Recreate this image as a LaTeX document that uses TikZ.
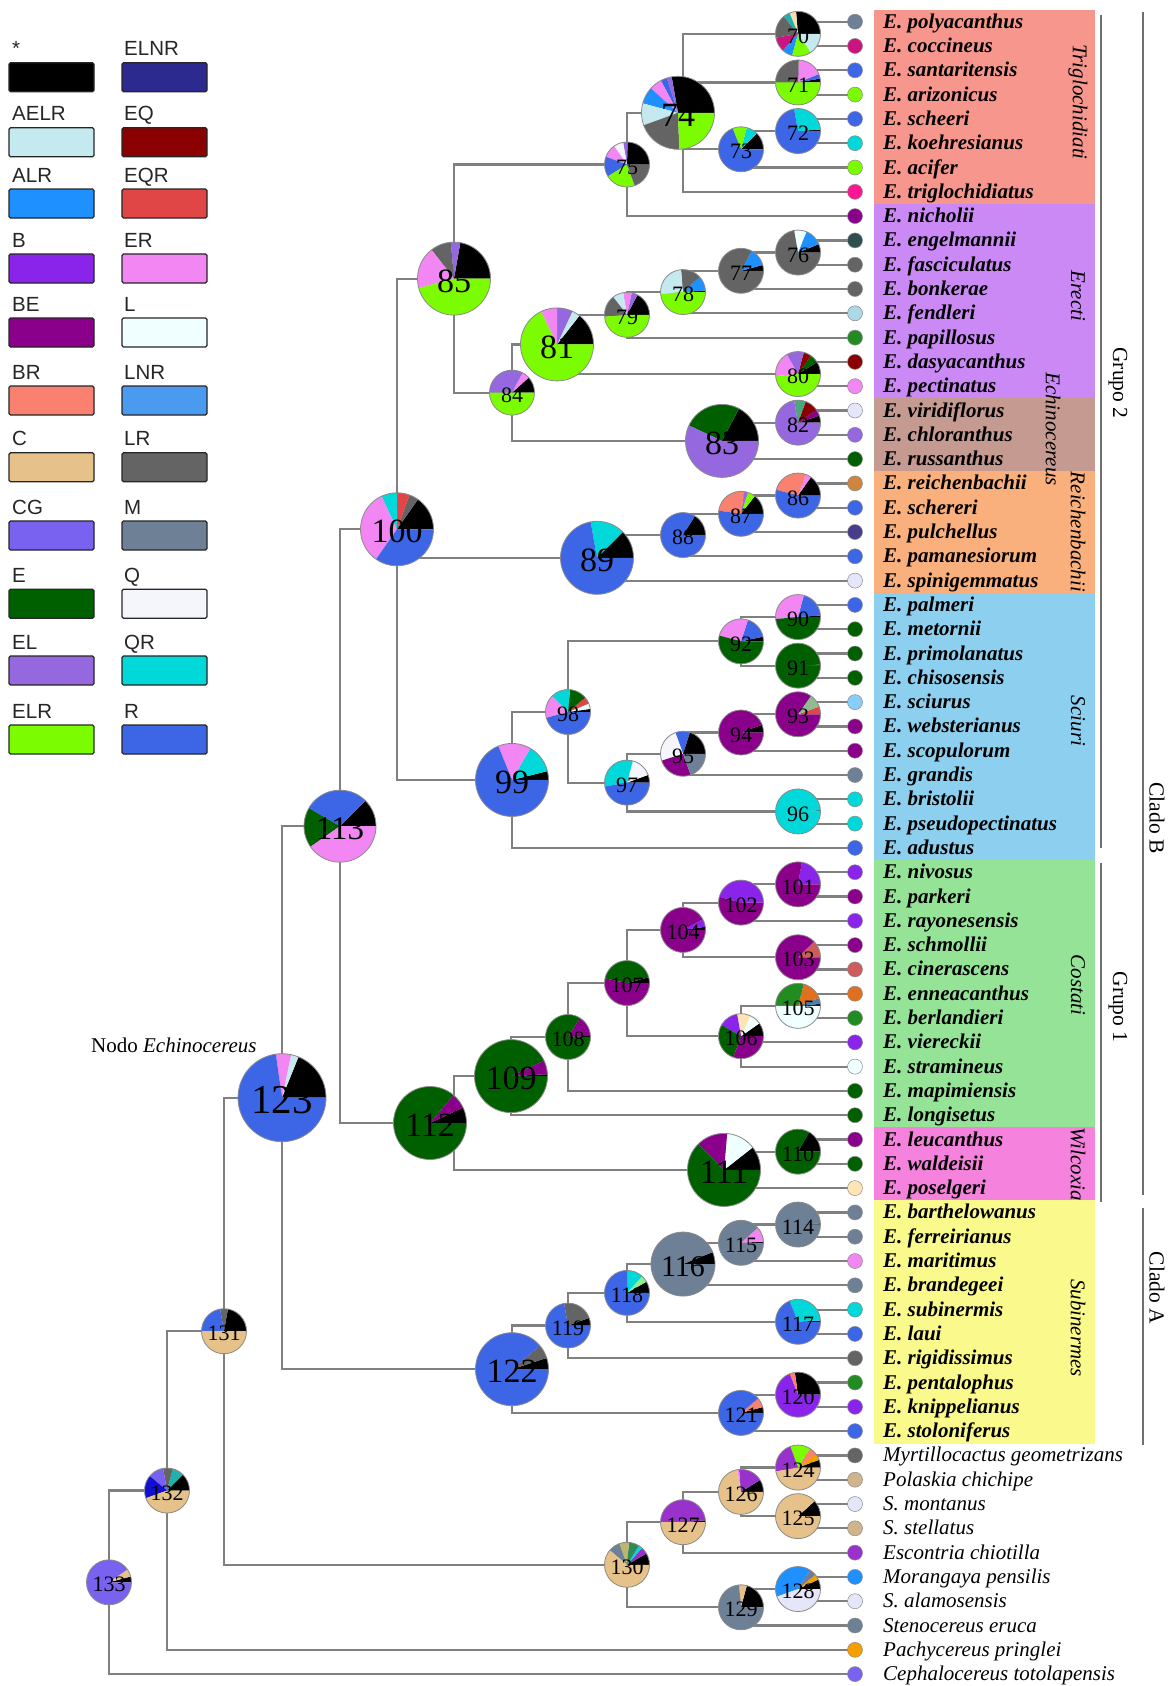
\documentclass[tikz,border=0pt]{standalone}
\usepackage{fontspec}
\setmainfont{Liberation Serif}
\newfontfamily\lsans{Liberation Sans}
\usetikzlibrary{calc}
\definecolor{cStar}{HTML}{000000}
\definecolor{cAELR}{HTML}{C4EAF0}
\definecolor{cALR}{HTML}{1E90FF}
\definecolor{cB}{HTML}{8A24EA}
\definecolor{cBE}{HTML}{8B008B}
\definecolor{cBR}{HTML}{FA8070}
\definecolor{cC}{HTML}{E6C28A}
\definecolor{cCG}{HTML}{7A62F0}
\definecolor{cE}{HTML}{006000}
\definecolor{cEL}{HTML}{9668E0}
\definecolor{cELR}{HTML}{7CFC00}
\definecolor{cELNR}{HTML}{2C2A8E}
\definecolor{cEQ}{HTML}{8B0000}
\definecolor{cEQR}{HTML}{E04646}
\definecolor{cER}{HTML}{F286F2}
\definecolor{cL}{HTML}{F0FFFF}
\definecolor{cLNR}{HTML}{4A9BF0}
\definecolor{cLR}{HTML}{646464}
\definecolor{cM}{HTML}{6E8096}
\definecolor{cQ}{HTML}{F5F5FC}
\definecolor{cQR}{HTML}{00D8DA}
\definecolor{cR}{HTML}{3D66E6}
\definecolor{cWheat}{HTML}{F5DEB3}
\definecolor{cTeal}{HTML}{20B2AA}
\definecolor{cMag}{HTML}{CC1480}
\definecolor{cDeepPink}{HTML}{FF1493}
\definecolor{cSea}{HTML}{4CA87A}
\definecolor{cSeaB}{HTML}{2E8B57}
\definecolor{cDSea}{HTML}{8FBC8F}
\definecolor{cIRed}{HTML}{CD5C5C}
\definecolor{cOrange}{HTML}{E07020}
\definecolor{cOrangeB}{HTML}{F5A000}
\definecolor{cSteel}{HTML}{4682B4}
\definecolor{cForest}{HTML}{228B22}
\definecolor{cMocc}{HTML}{FFE4B5}
\definecolor{cLGreen}{HTML}{90EE90}
\definecolor{cOrchid}{HTML}{9932CC}
\definecolor{cKhaki}{HTML}{BDB76B}
\definecolor{cBlue}{HTML}{1010D0}
\definecolor{cDSlate}{HTML}{2F4F4F}
\definecolor{cLBlue}{HTML}{ADD8E6}
\definecolor{cLav}{HTML}{E6E6FA}
\definecolor{cPeru}{HTML}{CD853F}
\definecolor{cDSBlue}{HTML}{483D8B}
\definecolor{cLSky}{HTML}{87CEFA}
\definecolor{cTan}{HTML}{D2B48C}
\definecolor{cLine}{HTML}{808080}
\definecolor{cEdge}{HTML}{8A8A8A}
\definecolor{cBracket}{HTML}{707070}
\definecolor{bTrig}{HTML}{F7968C}
\definecolor{bErec}{HTML}{CB89F6}
\definecolor{bEchi}{HTML}{C59A90}
\definecolor{bReic}{HTML}{F9B07C}
\definecolor{bSciu}{HTML}{8DCFEE}
\definecolor{bCost}{HTML}{94E396}
\definecolor{bWilc}{HTML}{F582DC}
\definecolor{bSubi}{HTML}{FAF98C}

\newcommand{\kids}[2]{\foreach \kk in {#2}{\draw[branch] (#1) |- (\kk);}}
\newcommand{\pienode}[5]{%
  \foreach \sa/\sb/\sc in {#5}{%
    \fill[\sc] (#1) -- ++(\sa:#2) arc[start angle=\sa, end angle=\sb, radius=#2] -- cycle;}
  \draw[pieedge] (#1) circle[radius=#2];
  \node[font=\fontsize{#4}{#4}\selectfont, inner sep=0] (lbl#3) at ([yshift=-2.5]#1) {#3};
}

\begin{document}
\begin{tikzpicture}[x=1pt,y=1pt,
  branch/.style={draw=cLine, line width=2.2},
  pieedge/.style={draw=cEdge, line width=0.8},
  tipdot/.style={draw=cEdge, line width=0.5},
  tiplab/.style={font=\fontsize{21}{21}\selectfont\bfseries\itshape, inner sep=0, anchor=base west},
  outlab/.style={font=\fontsize{21}{21}\selectfont\itshape, inner sep=0, anchor=base west},
  cladelab/.style={font=\fontsize{21}{21}\selectfont\itshape, rotate=-90, inner sep=0},
  grouplab/.style={font=\fontsize{21.5}{21.5}\selectfont, rotate=-90, inner sep=0},
  bracketline/.style={draw=cBracket, line width=2.2},
  leglab/.style={font=\lsans\fontsize{20.5}{20.5}\selectfont, inner sep=0, anchor=base west, text=black!85},
  legbox/.style={draw=black!85, line width=1.3, rounded corners=1.5}
]
\useasboundingbox (0,0) rectangle (1169,-1686);
\fill[white] (0,0) rectangle (1169,-1686);

% ---------- legend ----------
\foreach \yy/\lab/\col [count=\k] in {62.7/{*}/cStar, 127.7/AELR/cAELR, 189/ALR/cALR, 254/B/cB, 318/BE/cBE, 386/BR/cBR, 452.7/C/cC, 521/CG/cCG, 589.3/E/cE, 656/EL/cEL, 725/ELR/cELR}{
  \node[leglab] (legl\k) at (12,{-\yy+7}) {\lab};
  \draw[legbox, fill=\col] (9,-\yy) rectangle (94,{-\yy-29});
}
\foreach \yy/\lab/\col [count=\k] in {62.7/ELNR/cELNR, 127.7/EQ/cEQ, 189/EQR/cEQR, 254/ER/cER, 318/L/cL, 386/LNR/cLNR, 452.7/LR/cLR, 521/M/cM, 589.3/Q/cQ, 656/QR/cQR, 725/R/cR}{
  \node[leglab] (legr\k) at (124,{-\yy+7}) {\lab};
  \draw[legbox, fill=\col] (122,-\yy) rectangle (207,{-\yy-29});
}

% ---------- clade bands ----------
\fill[bTrig] (874,-10) rectangle (1095,-204);
\fill[bErec] (874,-204) rectangle (1095,-398.3);
\fill[bEchi] (874,-398.3) rectangle (1095,-471.2);
\fill[bReic] (874,-471.2) rectangle (1095,-592.7);
\fill[bSciu] (874,-592.7) rectangle (1095,-860);
\fill[bCost] (874,-860) rectangle (1095,-1127.4);
\fill[bWilc] (874,-1127.4) rectangle (1095,-1200.2);
\fill[bSubi] (874,-1200.2) rectangle (1095,-1443.5);

\node[cladelab] (cTrig) at (1078,-102) {Triglochidiati};
\node[cladelab] (cErec) at (1078,-296) {Erecti};
\node[cladelab] (cEchi) at (1053,-429) {Echinocereus};
\node[cladelab] (cReic) at (1078,-532) {Reichenbachii};
\node[cladelab] (cSciu) at (1078,-721) {Sciuri};
\node[cladelab] (cCost) at (1078,-985) {Costati};
\node[cladelab] (cWilc) at (1078,-1164) {Wilcoxia};
\node[cladelab] (cSubi) at (1078,-1328) {Subinermes};

% ---------- group brackets ----------
\coordinate (g2a) at (1101,-15);   \coordinate (g2b) at (1101,-848);
\coordinate (g1a) at (1101,-863);  \coordinate (g1b) at (1101,-1202);
\coordinate (cBa) at (1143,-12);   \coordinate (cBb) at (1143,-1195);
\coordinate (cAa) at (1143,-1208); \coordinate (cAb) at (1143,-1445);
\draw[bracketline] (g2a) -- (g2b);
\draw[bracketline] (g1a) -- (g1b);
\draw[bracketline] (cBa) -- (cBb);
\draw[bracketline] (cAa) -- (cAb);
\node[grouplab] (gr2) at (1118,-383) {Grupo 2};
\node[grouplab] (gr1) at (1118,-1007) {Grupo 1};
\node[grouplab] (clB) at (1157,-818) {Clado B};
\node[grouplab] (clA) at (1157,-1288) {Clado A};

% ---------- tips ----------
\foreach \i in {1,...,69}{\coordinate (t\i) at (855,{-21.7-(\i-1)*24.3});}

% ---------- internal nodes ----------
\coordinate (n70) at (798,-33.85);
\coordinate (n71) at (798,-82.45);
\coordinate (n72) at (798,-131.05);
\coordinate (n73) at (741,-149.3);
\coordinate (n74) at (683,-112.8);
\coordinate (p74) at (678,-112.8);
\coordinate (n75) at (627,-164.5);
\coordinate (n76) at (798,-252.55);
\coordinate (n77) at (741,-270.8);
\coordinate (n78) at (683,-292.05);
\coordinate (n79) at (627,-314.8);
\coordinate (n80) at (798,-374.05);
\coordinate (n81) at (557,-344.4);
\coordinate (n82) at (798,-422.65);
\coordinate (n83) at (722,-440.9);
\coordinate (n84) at (512,-392.6);
\coordinate (n85) at (454,-278.6);
\coordinate (n86) at (798,-495.55);
\coordinate (n87) at (741,-513.8);
\coordinate (n88) at (683,-535.05);
\coordinate (n89) at (597,-557.8);
\coordinate (n90) at (798,-617.05);
\coordinate (n91) at (798,-665.65);
\coordinate (n92) at (741,-641.35);
\coordinate (n93) at (798,-714.25);
\coordinate (n94) at (741,-732.5);
\coordinate (n95) at (683,-753.75);
\coordinate (n96) at (798,-811.45);
\coordinate (n97) at (627,-782.6);
\coordinate (n98) at (568,-712);
\coordinate (n99) at (512,-779.95);
\coordinate (n100) at (397,-529.3);
\coordinate (n101) at (798,-884.35);
\coordinate (n102) at (741,-902.6);
\coordinate (n103) at (798,-957.25);
\coordinate (n104) at (683,-929.9);
\coordinate (n105) at (798,-1005.85);
\coordinate (n106) at (741,-1036.2);
\coordinate (n107) at (627,-983.05);
\coordinate (n108) at (568,-1036.98);
\coordinate (n109) at (511,-1076.1);
\coordinate (n110) at (798,-1151.65);
\coordinate (n111) at (724,-1169.9);
\coordinate (n112) at (454,-1123);
\coordinate (p112) at (430,-1123);
\coordinate (n113) at (340,-826.15);
\coordinate (n114) at (798,-1224.55);
\coordinate (n115) at (741,-1242.8);
\coordinate (n116) at (683,-1264.05);
\coordinate (n117) at (798,-1321.75);
\coordinate (n118) at (627,-1292.9);
\coordinate (n119) at (568,-1325.55);
\coordinate (n120) at (798,-1394.65);
\coordinate (n121) at (741,-1412.9);
\coordinate (n122) at (512,-1369.2);
\coordinate (n123) at (282,-1097.7);
\coordinate (n124) at (798,-1467.55);
\coordinate (n125) at (798,-1516.15);
\coordinate (n126) at (741,-1491.85);
\coordinate (n127) at (683,-1522.2);
\coordinate (n128) at (798,-1589.05);
\coordinate (n129) at (741,-1607.3);
\coordinate (n130) at (627,-1564.75);
\coordinate (n131) at (224,-1331.2);
\coordinate (n132) at (167,-1490.5);
\coordinate (n133) at (109,-1582.3);

% ---------- branches ----------
\kids{n70}{t1,t2}
\kids{n71}{t3,t4}
\kids{n72}{t5,t6}
\kids{n73}{n72,t7}
\kids{n74}{n70,n71,n73,t8}
\kids{n75}{n74,t9}
\kids{n76}{t10,t11}
\kids{n77}{n76,t12}
\kids{n78}{n77,t13}
\kids{n79}{n78,t14}
\kids{n80}{t15,t16}
\kids{n81}{n79,n80}
\kids{n82}{t17,t18}
\kids{n83}{n82,t19}
\kids{n84}{n81,n83}
\kids{n85}{n75,n84}
\kids{n86}{t20,t21}
\kids{n87}{n86,t22}
\kids{n88}{n87,t23}
\kids{n89}{n88,t24}
\kids{n90}{t25,t26}
\kids{n91}{t27,t28}
\kids{n92}{n90,n91}
\kids{n93}{t29,t30}
\kids{n94}{n93,t31}
\kids{n95}{n94,t32}
\kids{n96}{t33,t34}
\kids{n97}{n95,n96}
\kids{n98}{n92,n97}
\kids{n99}{n98,t35}
\kids{n100}{n85,n89,n99}
\kids{n101}{t36,t37}
\kids{n102}{n101,t38}
\kids{n103}{t39,t40}
\kids{n104}{n102,n103}
\kids{n105}{t41,t42}
\kids{n106}{n105,t43,t44}
\kids{n107}{n104,n106}
\kids{n108}{n107,t45}
\kids{n109}{n108,t46}
\kids{n110}{t47,t48}
\kids{n111}{n110,t49}
\kids{n112}{n109,n111}
\kids{n113}{n100,n112}
\kids{n114}{t50,t51}
\kids{n115}{n114,t52}
\kids{n116}{n115,t53}
\kids{n117}{t54,t55}
\kids{n118}{n116,n117}
\kids{n119}{n118,t56}
\kids{n120}{t57,t58}
\kids{n121}{n120,t59}
\kids{n122}{n119,n121}
\kids{n123}{n113,n122}
\kids{n124}{t60,t61}
\kids{n125}{t62,t63}
\kids{n126}{n124,n125}
\kids{n127}{n126,t64}
\kids{n128}{t65,t66}
\kids{n129}{n128,t67}
\kids{n130}{n127,n129}
\kids{n131}{n123,n130}
\kids{n132}{n131,t68}
\kids{n133}{n132,t69}

% ---------- pies ----------
\pienode{n70}{22.5}{70}{22}{0/95/cStar, 95/112/cWheat, 112/130/cTeal, 130/190/cLR, 190/228/cMag, 228/255/cALR, 255/305/cELR, 305/360/cAELR}
\pienode{n71}{22.5}{71}{22}{0/10/cStar, 10/22/cR, 22/88/cER, 88/180/cLR, 180/360/cELR}
\pienode{n72}{22.5}{72}{22}{0/4/cStar, 4/100/cQR, 100/360/cR}
\pienode{n73}{22.5}{73}{22}{0/45/cStar, 45/75/cQR, 75/112/cELR, 112/360/cR}
\pienode{p74}{36.5}{74}{34}{0/100/cStar, 100/108/cEL, 108/118/cR, 118/138/cER, 138/165/cALR, 165/200/cAELR, 200/272/cLR, 272/360/cELR}
\pienode{n75}{22.5}{75}{22}{0/88/cStar, 88/100/cEL, 100/125/cQ, 125/160/cER, 160/212/cR, 212/290/cELR, 290/360/cLR}
\pienode{n76}{22.5}{76}{22}{0/22/cStar, 22/68/cALR, 68/100/cL, 100/360/cLR}
\pienode{n77}{22.5}{77}{22}{0/15/cStar, 15/62/cALR, 62/360/cLR}
\pienode{n78}{22.5}{78}{22}{0/4/cStar, 4/42/cALR, 42/95/cLR, 95/185/cAELR, 185/360/cELR}
\pienode{n79}{22.5}{79}{22}{0/62/cStar, 62/78/cEL, 78/100/cER, 100/128/cAELR, 128/185/cLR, 185/360/cELR}
\pienode{n80}{22.5}{80}{22}{0/32/cStar, 32/55/cE, 55/75/cEQ, 75/120/cEL, 120/185/cER, 185/360/cELR}
\pienode{n81}{36.5}{81}{34}{0/52/cStar, 52/65/cAELR, 65/90/cEL, 90/116/cER, 116/360/cELR}
\pienode{n82}{22.5}{82}{22}{0/18/cStar, 18/35/cBE, 35/70/cEQ, 70/100/cSea, 100/360/cEL}
\pienode{n83}{36.5}{83}{34}{0/62/cStar, 62/155/cE, 155/360/cEL}
\pienode{n84}{22.5}{84}{22}{0/42/cStar, 42/62/cER, 62/180/cEL, 180/360/cELR}
\pienode{n85}{36.5}{85}{34}{0/80/cStar, 80/95/cEL, 95/128/cLR, 128/195/cER, 195/360/cELR}
\pienode{n86}{22.5}{86}{22}{0/55/cStar, 55/70/cER, 70/165/cBR, 165/360/cR}
\pienode{n87}{22.5}{87}{22}{0/52/cStar, 52/72/cELR, 72/82/cEL, 82/172/cBR, 172/360/cR}
\pienode{n88}{22.5}{88}{22}{0/58/cStar, 58/360/cR}
\pienode{n89}{36.5}{89}{34}{0/45/cStar, 45/100/cQR, 100/360/cR}
\pienode{n90}{22.5}{90}{22}{0/4/cStar, 4/75/cR, 75/185/cER, 185/360/cE}
\pienode{n91}{22.5}{91}{22}{0/3/cStar, 3/360/cE}
\pienode{n92}{22.5}{92}{22}{0/12/cStar, 12/72/cR, 72/165/cER, 165/360/cE}
\pienode{n93}{22.5}{93}{22}{0/20/cEQR, 20/55/cDSea, 55/360/cBE}
\pienode{n94}{22.5}{94}{22}{0/20/cStar, 20/360/cBE}
\pienode{n95}{22.5}{95}{22}{0/72/cStar, 72/110/cR, 110/198/cQ, 198/290/cBE, 290/360/cM}
\pienode{n96}{22.5}{96}{22}{0/3/cStar, 3/360/cQR}
\pienode{n97}{22.5}{97}{22}{0/20/cStar, 20/75/cQ, 75/190/cQR, 190/360/cR}
\pienode{n98}{22.5}{98}{22}{0/8/cStar, 8/22/cL, 22/40/cEQR, 40/85/cE, 85/135/cQR, 135/195/cER, 195/360/cR}
\pienode{n99}{36.5}{99}{34}{0/14/cStar, 14/60/cQR, 60/112/cER, 112/360/cR}
\pienode{n100}{36.5}{100}{34}{0/55/cStar, 55/70/cLR, 70/90/cEQR, 90/115/cQR, 115/235/cER, 235/360/cR}
\pienode{n101}{22.5}{101}{22}{0/80/cB, 80/360/cBE}
\pienode{n102}{22.5}{102}{22}{0/165/cB, 165/360/cBE}
\pienode{n103}{22.5}{103}{22}{0/45/cIRed, 45/360/cBE}
\pienode{n104}{22.5}{104}{22}{0/8/cStar, 8/28/cB, 28/360/cBE}
\pienode{n105}{22.5}{105}{22}{0/5/cStar, 5/20/cSteel, 20/75/cOrange, 75/180/cForest, 180/360/cL}
\pienode{n106}{22.5}{106}{22}{0/35/cStar, 35/65/cL, 65/100/cMocc, 100/150/cB, 150/250/cE, 250/360/cBE}
\pienode{n107}{22.5}{107}{22}{0/15/cStar, 15/168/cE, 168/360/cBE}
\pienode{n108}{22.5}{108}{22}{0/3/cStar, 3/58/cBE, 58/360/cE}
\pienode{n109}{36.5}{109}{34}{0/3/cStar, 3/25/cBE, 25/360/cE}
\pienode{n110}{22.5}{110}{22}{0/60/cStar, 60/360/cE}
\pienode{n111}{36.5}{111}{34}{0/38/cStar, 38/85/cL, 85/135/cBE, 135/360/cE}
\pienode{p112}{36.5}{112}{34}{0/25/cStar, 25/50/cBE, 50/360/cE}
\pienode{n113}{36}{113}{33}{0/45/cStar, 45/150/cR, 150/215/cE, 215/360/cER}
\pienode{n114}{22.5}{114}{22}{0/3/cStar, 3/360/cM}
\pienode{n115}{22.5}{115}{22}{0/3/cStar, 3/42/cER, 42/360/cM}
\pienode{n116}{32}{116}{30}{0/22/cStar, 22/360/cM}
\pienode{n117}{22.5}{117}{22}{0/3/cStar, 3/112/cQR, 112/360/cR}
\pienode{n118}{22.5}{118}{22}{0/30/cStar, 30/48/cLGreen, 48/90/cQR, 90/360/cR}
\pienode{n119}{22.5}{119}{22}{0/20/cStar, 20/100/cLR, 100/360/cR}
\pienode{n120}{22.5}{120}{22}{0/98/cStar, 98/112/cBR, 112/360/cB}
\pienode{n121}{22.5}{121}{22}{0/15/cStar, 15/40/cBR, 40/360/cR}
\pienode{n122}{36.5}{122}{34}{0/18/cStar, 18/40/cLR, 40/360/cR}
\pienode{n123}{44}{123}{41}{0/68/cStar, 68/78/cAELR, 78/98/cER, 98/360/cR}
\pienode{n124}{22.5}{124}{22}{0/20/cStar, 20/38/cOrangeB, 38/58/cBR, 58/110/cELR, 110/190/cOrchid, 190/360/cC}
\pienode{n125}{22.5}{125}{22}{0/42/cStar, 42/360/cC}
\pienode{n126}{22.5}{126}{22}{0/32/cStar, 32/95/cOrchid, 95/100/cER, 100/360/cC}
\pienode{n127}{22.5}{127}{22}{0/5/cStar, 5/180/cOrchid, 180/360/cC}
\pienode{n128}{22.5}{128}{22}{0/25/cStar, 25/40/cOrangeB, 40/58/cM, 58/200/cALR, 200/360/cLav}
\pienode{n129}{22.5}{129}{22}{0/75/cStar, 75/95/cC, 95/360/cM}
\pienode{n130}{22.5}{130}{22}{0/30/cStar, 30/48/cOrchid, 48/58/cQR, 58/85/cSeaB, 85/110/cKhaki, 110/140/cM, 140/360/cC}
\pienode{n131}{22.5}{131}{22}{0/80/cStar, 80/100/cLR, 100/180/cR, 180/360/cC}
\pienode{n132}{22.5}{132}{22}{0/45/cStar, 45/75/cTeal, 75/100/cLR, 100/140/cCG, 140/200/cBlue, 200/360/cC}
\pienode{n133}{22.5}{133}{22}{0/15/cStar, 15/35/cC, 35/360/cCG}

\node[font=\fontsize{21}{21}\selectfont, inner sep=0, anchor=base west] (nodoE) at (91,-1052) {Nodo \textit{Echinocereus}};

% ---------- tip dots and labels ----------
\foreach \i/\nm/\cl in {1/E. polyacanthus/cM, 2/E. coccineus/cMag, 3/E. santaritensis/cR, 4/E. arizonicus/cELR, 5/E. scheeri/cR, 6/E. koehresianus/cQR, 7/E. acifer/cELR, 8/E. triglochidiatus/cDeepPink, 9/E. nicholii/cBE, 10/E. engelmannii/cDSlate, 11/E. fasciculatus/cLR, 12/E. bonkerae/cLR, 13/E. fendleri/cLBlue, 14/E. papillosus/cForest, 15/E. dasyacanthus/cEQ, 16/E. pectinatus/cER, 17/E. viridiflorus/cLav, 18/E. chloranthus/cEL, 19/E. russanthus/cE, 20/E. reichenbachii/cPeru, 21/E. schereri/cR, 22/E. pulchellus/cDSBlue, 23/E. pamanesiorum/cR, 24/E. spinigemmatus/cLav, 25/E. palmeri/cR, 26/E. metornii/cE, 27/E. primolanatus/cE, 28/E. chisosensis/cE, 29/E. sciurus/cLSky, 30/E. websterianus/cBE, 31/E. scopulorum/cBE, 32/E. grandis/cM, 33/E. bristolii/cQR, 34/E. pseudopectinatus/cQR, 35/E. adustus/cR, 36/E. nivosus/cB, 37/E. parkeri/cBE, 38/E. rayonesensis/cB, 39/E. schmollii/cBE, 40/E. cinerascens/cIRed, 41/E. enneacanthus/cOrange, 42/E. berlandieri/cForest, 43/E. viereckii/cB, 44/E. stramineus/cL, 45/E. mapimiensis/cE, 46/E. longisetus/cE, 47/E. leucanthus/cBE, 48/E. waldeisii/cE, 49/E. poselgeri/cMocc, 50/E. barthelowanus/cM, 51/E. ferreirianus/cM, 52/E. maritimus/cER, 53/E. brandegeei/cM, 54/E. subinermis/cQR, 55/E. laui/cR, 56/E. rigidissimus/cLR, 57/E. pentalophus/cForest, 58/E. knippelianus/cB, 59/E. stoloniferus/cR}{
  \fill[\cl, tipdot] (t\i) circle[radius=7.5];
  \node[tiplab] (lab\i) at ($(t\i)+(28,-6.5)$) {\nm};
}
\foreach \i/\nm/\cl in {60/Myrtillocactus geometrizans/cLR, 61/Polaskia chichipe/cTan, 62/S. montanus/cLav, 63/S. stellatus/cTan, 64/Escontria chiotilla/cOrchid, 65/Morangaya pensilis/cALR, 66/S. alamosensis/cLav, 67/Stenocereus eruca/cM, 68/Pachycereus pringlei/cOrangeB, 69/Cephalocereus totolapensis/cCG}{
  \fill[\cl, tipdot] (t\i) circle[radius=7.5];
  \node[outlab] (lab\i) at ($(t\i)+(28,-6.5)$) {\nm};
}
\end{tikzpicture}
\end{document}
